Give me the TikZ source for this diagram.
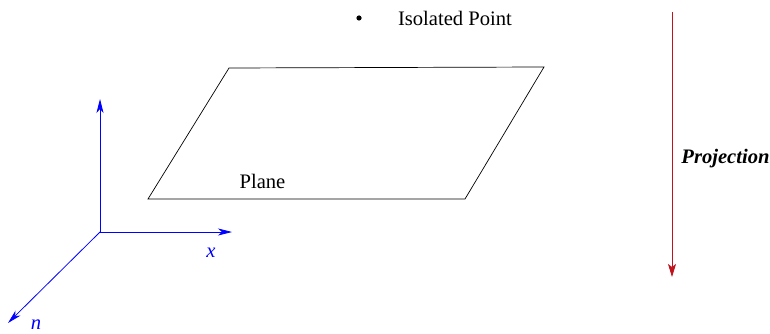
\documentclass[tikz,border=0pt]{standalone}
\usepackage{fontspec}
\setmainfont{Liberation Serif}
\newfontfamily\figserif{Liberation Serif}
\usetikzlibrary{arrows.meta}
\definecolor{projred}{RGB}{190,20,30}
\tikzset{
  axis/.style={draw=blue, line width=0.8pt, -{Stealth[length=14pt,width=7pt,inset=4pt]}},
  projarrow/.style={draw=projred, line width=0.8pt, -{Stealth[length=13pt,width=8pt,inset=3pt]}},
  lbl/.style={inner sep=0pt, font=\figserif\fontsize{20.6}{24}\selectfont},
}
\begin{document}
\begin{tikzpicture}[x=1pt,y=-1pt]
\useasboundingbox (0,0) rectangle (770,334);
% plane
\coordinate (p1) at (148,199);
\coordinate (p2) at (229,68);
\coordinate (p3) at (544,67);
\coordinate (p4) at (465,199);
\draw[line width=0.7pt] (p1) -- (p2) -- (p3) -- (p4) -- cycle;
\node[lbl] (plane) at (262.5,181) {Plane};
% isolated point
\fill (359,18) circle (2.6);
\node[lbl] (iso) at (455,18) {Isolated Point};
% axes
\coordinate (o) at (100,232);
\coordinate (ytip) at (100,99);
\coordinate (xtip) at (232,232);
\coordinate (ntip) at (8,323);
\draw[axis] (o) -- (ytip);
\draw[axis] (o) -- (xtip);
\draw[axis] (o) -- (ntip);
\node[lbl, text=blue] (xl) at (211,253) {\textit{x}};
\node[lbl, text=blue] (nl) at (36,325) {\textit{n}};
% projection
\coordinate (ptop) at (672,12);
\coordinate (pbot) at (672,277);
\draw[projarrow] (ptop) -- (pbot);
\node[lbl] (proj) at (725.5,159) {\textbf{\textit{Projection}}};
\end{tikzpicture}
\end{document}
